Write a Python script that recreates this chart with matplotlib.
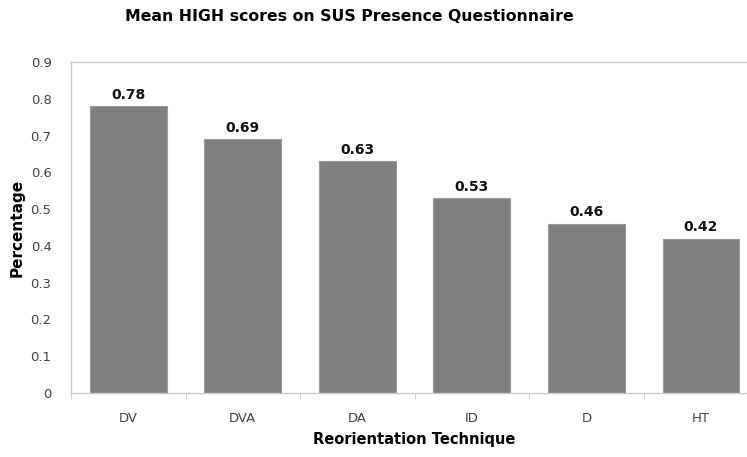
import matplotlib.pyplot as plt
import numpy as np

# --- Data ---
techniques = ['DV', 'DVA', 'DA', 'ID', 'D', 'HT']
high_scores = [0.78, 0.69, 0.63, 0.53, 0.46, 0.42]

fig = plt.figure(figsize=(7.47, 4.57), dpi=100)
ax = fig.add_axes([0.095, 0.140, 0.92, 0.724])

x = np.arange(len(techniques))
ax.bar(x, high_scores, width=0.67, color='#7f7f7f', edgecolor='#9a9a9a', linewidth=0.8, zorder=2)

for xi, val in zip(x, high_scores):
    ax.text(xi, val + 0.012, f'{val:.2f}', ha='center', va='bottom',
            fontsize=10, fontweight='bold', color='#111111')

ax.set_xlim(-0.5, len(techniques) - 0.5)
ax.set_ylim(0, 0.9)
ax.set_yticks(np.arange(0, 0.91, 0.1))
ax.set_yticklabels(['0'] + [f'{v:.1f}' for v in np.arange(0.1, 0.91, 0.1)])
ax.set_xticks(x)
ax.set_xticklabels(techniques)
ax.set_xticks(np.arange(-0.5, len(techniques), 1), minor=True)

for s in ax.spines.values():
    s.set_color('#c8c8c8')
    s.set_linewidth(1.0)
ax.spines['right'].set_visible(False)

ax.tick_params(axis='y', length=0, pad=14, labelsize=9.5, labelcolor='#444444')
ax.tick_params(axis='x', which='major', length=0, pad=14, labelsize=9.5, labelcolor='#444444')
ax.tick_params(axis='x', which='minor', length=4, color='#c8c8c8')

ax.set_xlabel('Reorientation Technique', fontsize=10.5, fontweight='bold', labelpad=5)
ax.set_ylabel('Percentage', fontsize=11, fontweight='bold', labelpad=4)
fig.text(0.467, 0.963, 'Mean HIGH scores on SUS Presence Questionnaire',
         ha='center', va='center', fontsize=11.3, fontweight='bold')

fig.savefig('out.png', dpi=100)
